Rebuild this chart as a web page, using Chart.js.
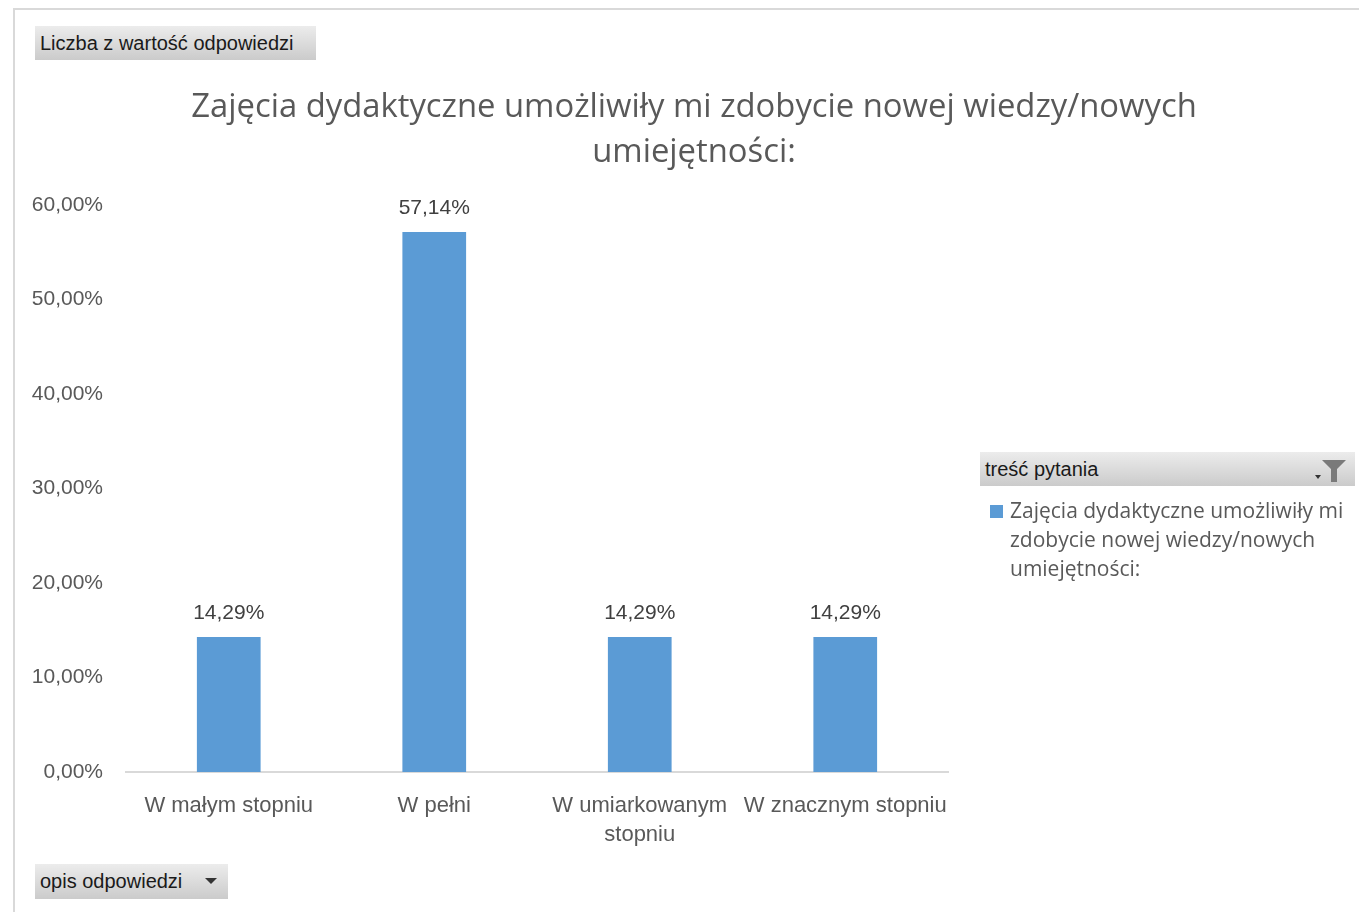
<!DOCTYPE html>
<html>
<head>
<meta charset="utf-8">
<script src="https://cdn.jsdelivr.net/npm/chart.js@4.4.1/dist/chart.umd.min.js"></script>
<style>
  html, body { margin: 0; padding: 0; background: #fff; width: 1359px; height: 912px; overflow: hidden; font-family: "Liberation Sans", Arial, sans-serif; }
  #frame { position: absolute; left: 13px; top: 8px; width: 1400px; height: 1000px; border-top: 2px solid #d9d9d9; border-left: 2px solid #d9d9d9; }
  #wrap { position: absolute; left: 29px; top: 0; width: 1330px; height: 912px; }
  #title { position: absolute; left: 94px; top: 82px; width: 1200px; text-align: center; font-family: "Open Sans", sans-serif; font-size: 32.8px; line-height: 45px; color: #595959; }
  .btn { position: absolute; background: linear-gradient(#ececec, #cbcbcb); color: #1a1a1a; font-size: 20px; line-height: 34px; padding-left: 5px; box-sizing: border-box; white-space: nowrap; }
  #legend { position: absolute; left: 990px; top: 496px; width: 360px; color: #595959; font-family: "Open Sans", sans-serif; font-size: 21px; line-height: 29px; }
  #legend .sw { position: absolute; left: 0; top: 9px; width: 13px; height: 13px; background: #5B9BD5; }
  #legend .tx { position: absolute; left: 20px; top: 0; width: 350px; }
</style>
</head>
<body>
<div id="frame"></div>
<div id="wrap"><canvas id="c"></canvas></div>
<div id="title"></div>
<div class="btn" style="left:35px;top:26px;width:281px;height:34px;">Liczba z wartość odpowiedzi</div>
<div class="btn" style="left:35px;top:864px;width:193px;height:35px;">opis odpowiedzi
  <svg style="position:absolute;left:170px;top:14px" width="12" height="8"><polygon points="0,0 12,0 6,6" fill="#333"/></svg>
</div>
<div class="btn" style="left:980px;top:452px;width:375px;height:34px;">treść pytania
  <svg style="position:absolute;left:333px;top:5px" width="36" height="26">
    <polygon points="2,18 8,18 5,22" fill="#333"/>
    <polygon points="9,3 33,3 24,12 24,25 18,25 18,12" fill="#7a7a7a"/>
  </svg>
</div>
<div id="legend"><div class="sw"></div><div class="tx"></div></div>
<script>
const categories = ['W małym stopniu', 'W pełni', 'W umiarkowanym stopniu', 'W znacznym stopniu'];
const values = [14.29, 57.14, 14.29, 14.29];
const seriesName = 'Zajęcia dydaktyczne umożliwiły mi zdobycie nowej wiedzy/nowych umiejętności:';
const titleLines = ['Zajęcia dydaktyczne umożliwiły mi zdobycie nowej wiedzy/nowych', 'umiejętności:'];
const yTicks = [0, 10, 20, 30, 40, 50, 60];

document.getElementById('title').innerHTML = titleLines.join('<br>');
document.querySelector('#legend .tx').textContent = seriesName;

const fmt = v => v.toFixed(2).replace('.', ',') + '%';

const dataLabels = {
  id: 'dataLabels',
  afterDatasetsDraw(chart) {
    const ctx = chart.ctx;
    const meta = chart.getDatasetMeta(0);
    ctx.save();
    ctx.font = '21px "Liberation Sans", Arial, sans-serif';
    ctx.fillStyle = '#404040';
    ctx.textAlign = 'center';
    ctx.textBaseline = 'middle';
    meta.data.forEach((bar, i) => {
      ctx.fillText(fmt(chart.data.datasets[0].data[i]), bar.x, bar.y - 24);
    });
    ctx.restore();
  }
};

new Chart(document.getElementById('c'), {
  type: 'bar',
  data: {
    labels: categories,
    datasets: [{
      label: seriesName,
      data: values,
      backgroundColor: '#5B9BD5',
      borderWidth: 0,
      barPercentage: 1,
      categoryPercentage: 0.31
    }]
  },
  options: {
    responsive: true,
    maintainAspectRatio: false,
    animation: false,
    layout: { padding: { left: 0, right: 411, top: 205, bottom: 0 } },
    plugins: {
      legend: { display: false },
      tooltip: { enabled: false },
      title: { display: false }
    },
    scales: {
      x: {
        grid: { display: false, drawTicks: false },
        border: { display: true, color: '#d9d9d9', width: 2 },
        ticks: {
          color: '#595959',
          padding: 19,
          maxRotation: 0,
          autoSkip: false,
          font: { family: '"Liberation Sans", Arial, sans-serif', size: 22, lineHeight: 1.32 },
          callback: function(v) {
            const l = this.getLabelForValue(v);
            if (l.length > 20) { const k = l.lastIndexOf(' '); return [l.slice(0, k), l.slice(k + 1)]; }
            return l;
          }
        },
        afterFit: s => { s.height = 140; }
      },
      y: {
        min: 0, max: 60,
        afterBuildTicks: s => { s.ticks = yTicks.map(v => ({ value: v })); },
        grid: { display: false, drawTicks: false },
        border: { display: false },
        ticks: {
          color: '#595959',
          padding: 23,
          font: { family: '"Liberation Sans", Arial, sans-serif', size: 21 },
          callback: v => fmt(v)
        },
        afterFit: s => { s.width = 97; }
      }
    }
  },
  plugins: [dataLabels]
});
</script>
</body>
</html>
